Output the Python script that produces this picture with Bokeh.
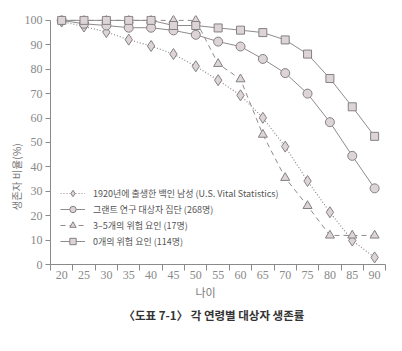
from bokeh.plotting import figure
from bokeh.models import FixedTicker, Legend, LegendItem, Title, Range1d
from bokeh.embed import file_html
from bokeh.resources import INLINE

ages = [20, 25, 30, 35, 40, 45, 50, 55, 60, 65, 70, 75, 80, 85, 90]
us_1920 = [99.5, 97.5, 95.2, 92.1, 89.5, 86.2, 81.2, 75.5, 69.3, 60.1, 48.3, 34.2, 21.4, 9.8, 2.9]
grant = [100, 98.6, 97.9, 97.0, 97.0, 95.9, 94.1, 91.3, 89.3, 84.2, 78.4, 70.0, 58.3, 44.5, 31.2]
risk_3_5 = [100, 100, 100, 100, 100, 100, 100, 82.2, 75.9, 53.2, 35.5, 24.0, 11.9, 11.9, 11.9]
risk_0 = [100, 100, 100, 100, 100, 97.9, 97.9, 96.9, 96.0, 95.0, 92.0, 86.2, 76.2, 64.6, 52.5]

x_ticks = [20, 25, 30, 35, 40, 45, 50, 55, 60, 65, 70, 75, 80, 85, 90]
x_minor = [17.5, 22.5, 27.5, 32.5, 37.5, 42.5, 47.5, 52.5, 57.5, 62.5, 67.5, 72.5, 77.5, 82.5, 87.5, 92.5]
y_ticks = [0, 10, 20, 30, 40, 50, 60, 70, 80, 90, 100]

names = [
    "1920년에 출생한 백인 남성 (U.S. Vital Statistics)",
    "그랜트 연구 대상자 집단 (268명)",
    "3–5개의 위험 요인 (17명)",
    "0개의 위험 요인 (114명)",
]
x_title = "나이"
y_title = "생존자 비율(%)"
caption = "〈도표 7-1〉 각 연령별 대상자 생존률"

LINE = "#8f8a8c"
FILL = "#ddd4d7"
MK = "#858083"
AX = "#8a8a8a"

p = figure(width=402, height=351, output_backend="svg", toolbar_location=None,
           x_range=Range1d(17.5, 94), y_range=Range1d(0, 102),
           min_border_left=50, min_border_right=10, min_border_top=15, min_border_bottom=87)
p.outline_line_color = None
p.xgrid.visible = False
p.ygrid.visible = False
p.background_fill_color = "white"

r1l = p.line(ages, us_1920, line_color=LINE, line_width=1.2, line_dash="1 2")
r1m = p.scatter(ages, us_1920, marker="diamond", size=11, fill_color=FILL, line_color=MK, line_width=1)
r2l = p.line(ages, grant, line_color=LINE, line_width=1)
r2m = p.scatter(ages, grant, marker="circle", size=9, fill_color=FILL, line_color=MK, line_width=1)
r3l = p.line(ages, risk_3_5, line_color=LINE, line_width=1, line_dash="5 4")
r3m = p.scatter(ages, risk_3_5, marker="triangle", size=9, fill_color=FILL, line_color=MK, line_width=1)
r4l = p.line(ages, risk_0, line_color=LINE, line_width=1)
r4m = p.scatter(ages, risk_0, marker="square", size=8, fill_color=FILL, line_color=MK, line_width=1)

xa = p.xaxis[0]
xa.ticker = FixedTicker(ticks=x_ticks, minor_ticks=x_minor)
xa.bounds = (17.5, 92.5)
xa.major_tick_out = 0
xa.major_tick_in = 0
xa.minor_tick_out = 6
xa.minor_tick_in = 0
xa.minor_tick_line_color = AX
xa.axis_line_color = AX
xa.major_label_standoff = 0
xa.major_label_text_font = "Liberation Serif"
xa.major_label_text_font_size = "12px"
xa.major_label_text_color = "#888888"

ya = p.yaxis[0]
ya.ticker = FixedTicker(ticks=y_ticks)
ya.bounds = (0, 100)
ya.major_tick_out = 5
ya.major_tick_in = 0
ya.minor_tick_out = 0
ya.minor_tick_in = 0
ya.major_tick_line_color = AX
ya.axis_line_color = AX
ya.major_label_standoff = 3
ya.major_label_text_font = "Liberation Serif"
ya.major_label_text_font_size = "12px"
ya.major_label_text_color = "#888888"

legend = Legend(items=[
    LegendItem(label=names[0], renderers=[r1l, r1m]),
    LegendItem(label=names[1], renderers=[r2l, r2m]),
    LegendItem(label=names[2], renderers=[r3l, r3m]),
    LegendItem(label=names[3], renderers=[r4l, r4m]),
], location=(10, 15))
legend.background_fill_alpha = 0
legend.border_line_color = None
legend.padding = 0
legend.margin = 0
legend.spacing = 0
legend.glyph_width = 25
legend.glyph_height = 16
legend.label_height = 16
legend.label_standoff = 8
legend.label_text_font = "Noto Sans CJK KR"
legend.label_text_font_size = "9px"
legend.label_text_color = "#555555"
p.add_layout(legend)

yt = Title(text=y_title, align="left", offset=54,
           text_font="Noto Sans CJK KR", text_font_size="10.5px", text_font_style="normal",
           text_color="#777777", standoff=-4)
p.add_layout(yt, "left")

xt = Title(text=x_title, align="left", offset=145,
           text_font="Noto Sans CJK KR", text_font_size="11px", text_font_style="normal",
           text_color="#777777", standoff=0)
p.add_layout(xt, "below")

cap = Title(text=caption, align="left", offset=73,
            text_font="Noto Sans CJK KR", text_font_size="11.5px", text_font_style="bold",
            text_color="#333333", standoff=10)
p.add_layout(cap, "below")

open("out.html", "w").write(file_html(p, INLINE))
